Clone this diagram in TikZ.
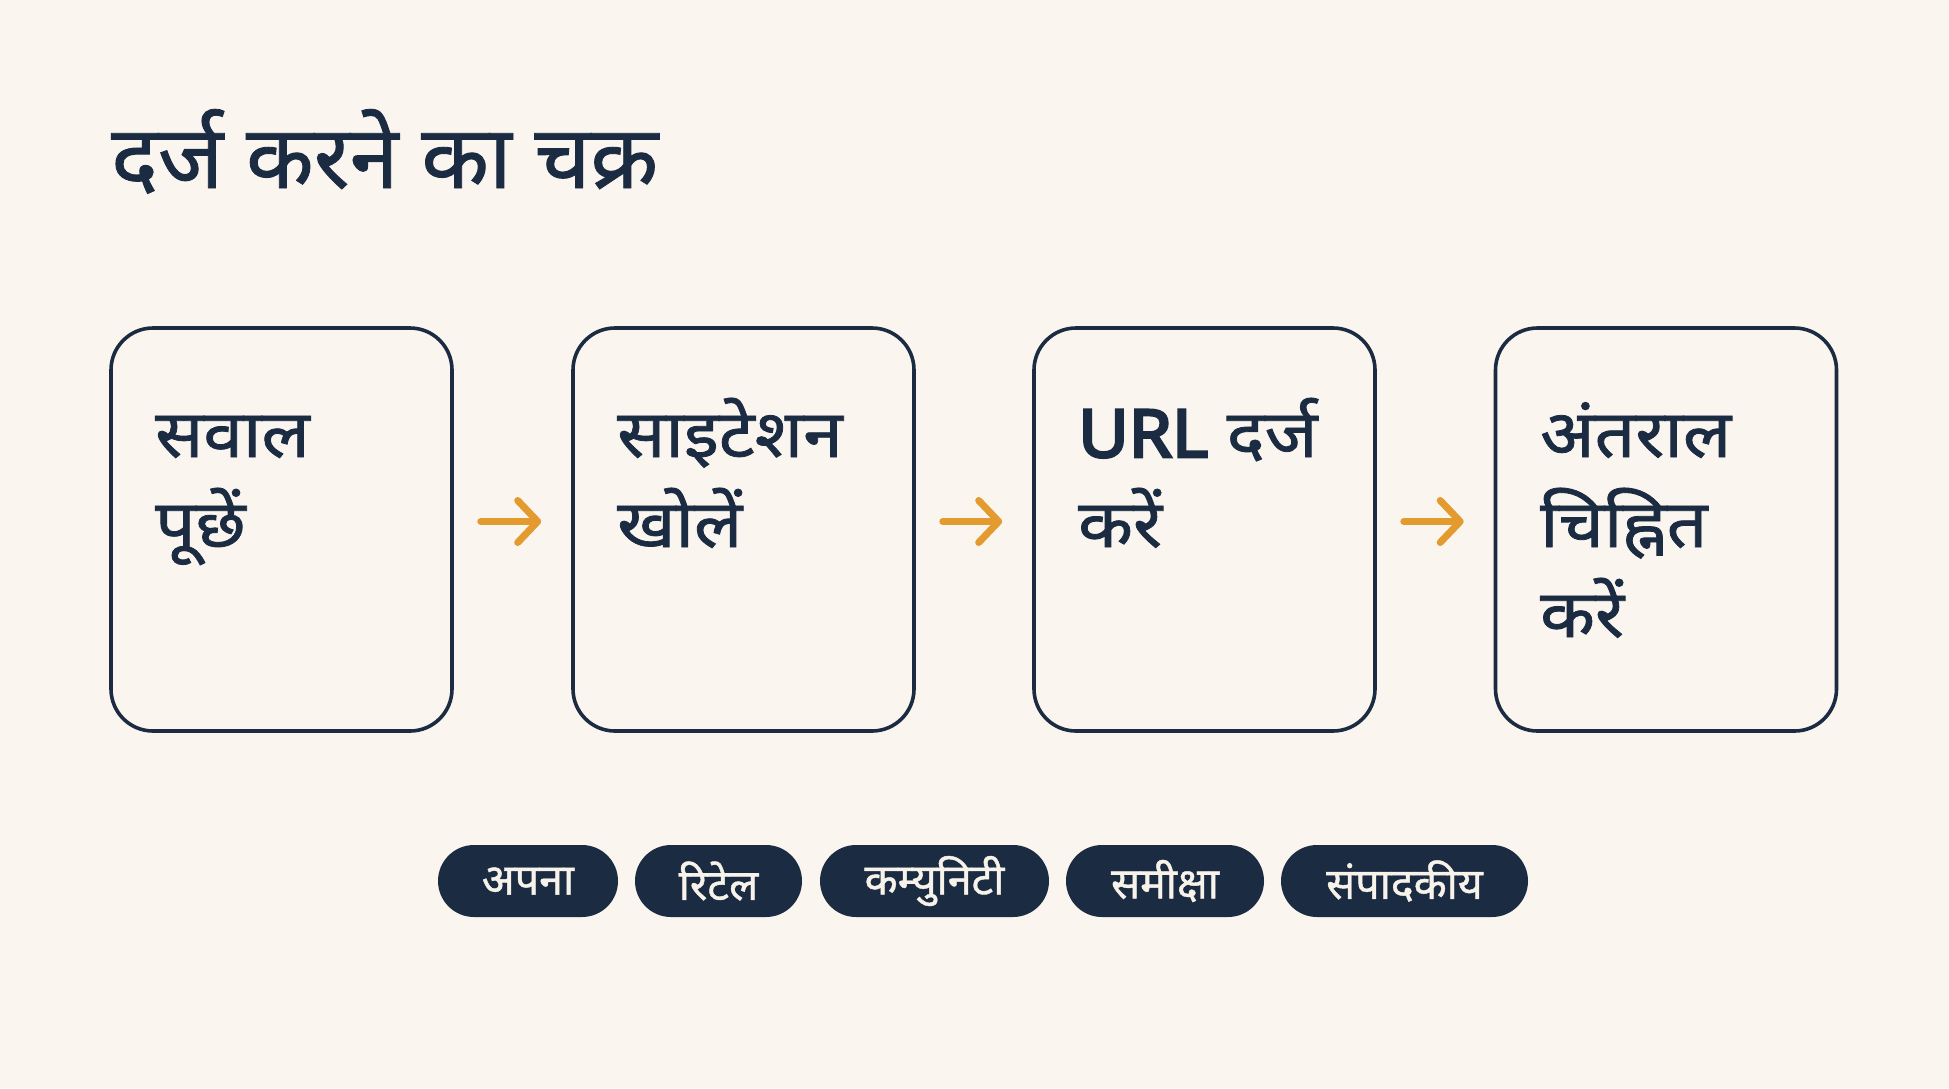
\documentclass[tikz,border=0pt]{standalone}
\usepackage{fontspec}
\newfontfamily\dev[Script=Devanagari,FakeBold=1]{Noto Sans}
\newfontfamily\devw[Script=Devanagari,FakeBold=1.2,FakeStretch=1.08]{Noto Sans}
\newfontfamily\urlfont[FakeBold=4.2,FakeStretch=1.05]{Noto Sans}
\usetikzlibrary{arrows.meta}
\definecolor{bg}{HTML}{FAF5EE}
\definecolor{navy}{HTML}{1B2B42}
\definecolor{ora}{HTML}{E39A2F}
\definecolor{pilltext}{HTML}{F7F2EA}
\begin{document}
\begin{tikzpicture}[x=1pt,y=-1pt,
  stepbox/.style={draw=navy,line width=3.6pt,rounded corners=42pt,minimum width=341pt,minimum height=403pt,inner sep=0pt},
  boxtext/.style={anchor=base west,inner sep=0pt,text=navy,font=\devw\fontsize{66}{70}\selectfont},
  arr/.style={draw=ora,line width=7pt,line cap=round,-{Straight Barb[length=20pt,width=42pt,round]}},
  pill/.style={fill=navy,rounded corners=36pt,minimum height=72pt,inner sep=0pt,text=pilltext,font=\dev\fontsize{43}{45}\selectfont},
]
\fill[bg] (0,0) rectangle (1949,1088);
\useasboundingbox (0,0) rectangle (1949,1088);
\node[anchor=base west,inner sep=0pt,text=navy,font=\dev\fontsize{88}{92}\selectfont] (title) at (111,188) {दर्ज करने का चक्र};
\node[stepbox] (b1) at (281.5,529.5) {};
\node[stepbox] (b2) at (743.5,529.5) {};
\node[stepbox] (b3) at (1204.5,529.5) {};
\node[stepbox] (b4) at (1666,529.5) {};
\node[boxtext] (t1a) at (155,457) {सवाल};
\node[boxtext] (t1b) at (155,547) {पूछें};
\node[boxtext] (t2a) at (617,457) {साइटेशन};
\node[boxtext] (t2b) at (617,547) {खोलें};
\node[boxtext] (t3a) at (1078,457) {{\urlfont URL} दर्ज};
\node[boxtext] (t3b) at (1078,547) {करें};
\node[boxtext] (t4a) at (1540,457) {अंतराल};
\node[boxtext] (t4b) at (1540,547) {चिह्नित};
\node[boxtext] (t4c) at (1540,637) {करें};
\draw[arr] ([xshift=27pt,yshift=8pt]b1.east) -- ([xshift=-30pt,yshift=8pt]b2.west);
\draw[arr] ([xshift=27pt,yshift=8pt]b2.east) -- ([xshift=-30pt,yshift=8pt]b3.west);
\draw[arr] ([xshift=27pt,yshift=8pt]b3.east) -- ([xshift=-30pt,yshift=8pt]b4.west);
\node[pill,minimum width=180pt] (p1) at (528,881) {अपना};
\node[pill,minimum width=167pt] (p2) at (718.5,881) {रिटेल};
\node[pill,minimum width=229pt] (p3) at (934.5,881) {कम्युनिटी};
\node[pill,minimum width=198pt] (p4) at (1165,881) {समीक्षा};
\node[pill,minimum width=247pt] (p5) at (1404.5,881) {संपादकीय};
\end{tikzpicture}
\end{document}
